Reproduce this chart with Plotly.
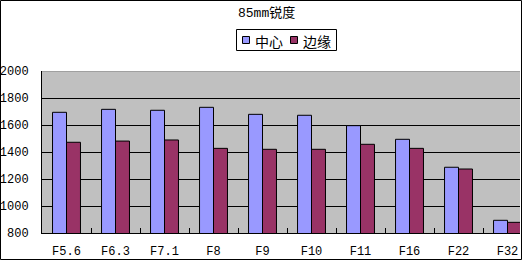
import plotly.graph_objects as go

categories = ["F5.6", "F6.3", "F7.1", "F8", "F9", "F10", "F11", "F16", "F22", "F32"]
center = [1694, 1716, 1709, 1731, 1679, 1672, 1595, 1494, 1287, 894]
edge = [1472, 1481, 1489, 1427, 1420, 1420, 1457, 1427, 1274, 879]
series_names = ["中心", "边缘"]
series_colors = ["#9999FF", "#993366"]
title_text = "85mm锐度"
y_ticks = [800, 1000, 1200, 1400, 1600, 1800, 2000]

W, H = 522, 260
ML, MR, MT, MB = 42, 2, 71, 27
pw = W - ML - MR
ph = H - MT - MB
cat_px = 49.0
x_hi = -0.5 + pw / cat_px

FONT = "Liberation Mono, Noto Sans CJK SC, monospace"


def px_x(x):
    return (x - ML) / pw


def px_y(y):
    return (H - MB - y) / ph


fig = go.Figure()
for name, vals, col in zip(series_names, [center, edge], series_colors):
    fig.add_trace(go.Bar(x=categories, y=vals, name=name,
                         marker=dict(color=col, line=dict(color="black", width=1))))

shapes = [
    dict(type="line", xref="paper", yref="y", x0=0, x1=1, y0=2000, y1=2000,
         line=dict(color="#808080", width=1), layer="above"),
    dict(type="rect", xref="paper", yref="paper",
         x0=px_x(0.5), x1=px_x(W - 0.5), y0=px_y(H - 0.5), y1=px_y(0.5),
         line=dict(color="black", width=1), layer="above"),
    # legend box
    dict(type="rect", xref="paper", yref="paper",
         x0=px_x(236.5), x1=px_x(336.5), y0=px_y(50.5), y1=px_y(29.5),
         line=dict(color="black", width=1), fillcolor="white", layer="above"),
]
annotations = [dict(text=title_text, xref="paper", yref="paper",
                    x=px_x(266), y=px_y(13),
                    xanchor="center", yanchor="middle", showarrow=False,
                    font=dict(family=FONT, size=13))]

sw_x = [242.5, 290.5]
tx_x = [253, 301]
for i, name in enumerate(series_names):
    shapes.append(dict(type="rect", xref="paper", yref="paper",
                       x0=px_x(sw_x[i]), x1=px_x(sw_x[i] + 7), y0=px_y(43.5), y1=px_y(36.5),
                       line=dict(color="black", width=1), fillcolor=series_colors[i],
                       layer="above"))
    annotations.append(dict(text=name, xref="paper", yref="paper",
                            x=px_x(tx_x[i]), y=px_y(40.5), xanchor="left", yanchor="middle",
                            showarrow=False,
                            font=dict(family="Noto Sans CJK SC", size=14)))

fig.update_layout(
    width=W, height=H,
    margin=dict(l=ML, r=MR, t=MT, b=MB, pad=0),
    paper_bgcolor="white", plot_bgcolor="#C0C0C0",
    barmode="group", bargap=0.43, bargroupgap=0,
    font=dict(family=FONT, size=12, color="black"),
    showlegend=False,
    xaxis=dict(type="category", range=[-0.5, x_hi], showgrid=False, automargin=False,
               showline=True, linecolor="black", linewidth=1,
               ticks="inside", tickson="boundaries", ticklen=5, tickcolor="black",
               ticklabelstandoff=7, tickfont=dict(size=12, family=FONT)),
    yaxis=dict(range=[800, 2000], tickvals=y_ticks, showgrid=True, automargin=False,
               gridcolor="black", gridwidth=1, zeroline=False,
               showline=True, linecolor="black", linewidth=1,
               ticks="", ticklabelstandoff=10, tickfont=dict(size=12, family=FONT)),
    annotations=annotations,
    shapes=shapes,
)

fig.write_html("out.html")
